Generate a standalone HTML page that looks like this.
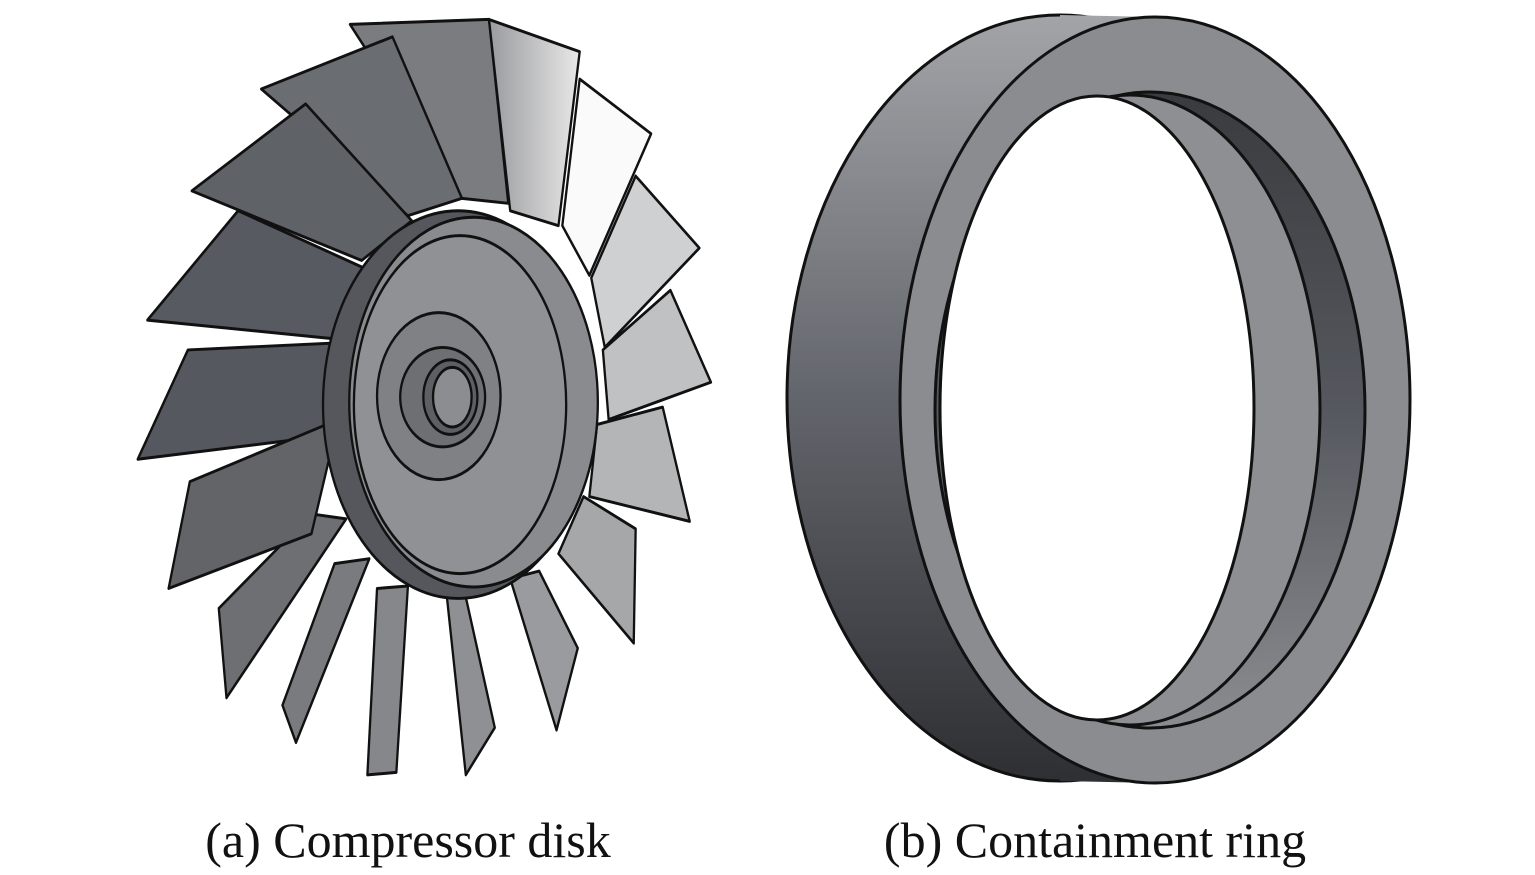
<!DOCTYPE html>
<html><head><meta charset="utf-8"><style>
html,body{margin:0;padding:0;background:#fff;}
svg{display:block;}
text{font-family:"Liberation Serif",serif;}
</style></head><body>
<svg width="1535" height="875" viewBox="0 0 1535 875" xmlns="http://www.w3.org/2000/svg">
<defs>
<linearGradient id="band" x1="0" y1="0" x2="0" y2="1">
<stop offset="0" stop-color="#a2a4a8"/><stop offset="0.5" stop-color="#62656b"/><stop offset="1" stop-color="#2e2f33"/>
</linearGradient>
<linearGradient id="inner" x1="0" y1="0" x2="0" y2="1">
<stop offset="0" stop-color="#3a3b3f"/><stop offset="0.5" stop-color="#55585e"/><stop offset="1" stop-color="#8a8c90"/>
</linearGradient>
<linearGradient id="lite" x1="0" y1="0" x2="1" y2="0">
<stop offset="0" stop-color="#9a9b9e"/><stop offset="1" stop-color="#e8e8e8"/>
</linearGradient>
</defs>

<!-- Compressor disk -->
<g transform="translate(130,7) scale(0.386,0.497)" stroke="#111" stroke-width="6" stroke-linejoin="round">
<polygon points="570,35 930,25 980,395 860,385" fill="#7a7c80"/>
<polygon points="930,25 1165,90 1110,440 985,410" fill="url(#lite)"/>
<polygon points="1165,145 1350,255 1190,540 1120,440" fill="#fafafa"/>
<polygon points="1310,340 1475,485 1230,685 1195,545" fill="#cfd0d1"/>
<polygon points="1400,570 1505,755 1240,830 1225,690" fill="#c0c1c3"/>
<polygon points="1380,805 1450,1035 1190,985 1210,840" fill="#b4b5b7"/>
<polygon points="1175,985 1310,1050 1305,1280 1110,1100" fill="#a6a7a9"/>
<polygon points="985,1150 1060,1135 1160,1290 1105,1455" fill="#9a9b9e"/>
<polygon points="820,1180 865,1170 945,1450 870,1545" fill="#8f9093"/>
<polygon points="640,1170 720,1165 690,1540 615,1545" fill="#86878a"/>
<polygon points="530,1120 620,1110 430,1480 395,1405" fill="#7a7b7e"/>
<polygon points="470,1020 560,1030 250,1390 230,1210" fill="#6e6f72"/>
<polygon points="340,165 680,60 860,385 720,420" fill="#6a6e73"/>
<polygon points="160,370 455,195 730,430 600,510" fill="#5f6368"/>
<polygon points="45,630 280,410 620,530 560,670" fill="#575b61"/>
<polygon points="150,690 560,675 540,860 20,910" fill="#55585e"/>
<polygon points="155,955 540,830 470,1060 100,1170" fill="#626468"/>
<ellipse cx="850" cy="800" rx="350" ry="390" fill="#55575c"/>
<ellipse cx="890" cy="795" rx="322" ry="372" fill="#8a8b8f"/>
<ellipse cx="855" cy="800" rx="275" ry="340" fill="#909195"/>
<ellipse cx="800" cy="783" rx="160" ry="168" fill="#808185"/>
<ellipse cx="810" cy="785" rx="110" ry="100" fill="#6e6f73"/>
<ellipse cx="830" cy="785" rx="70" ry="75" fill="#5e5f63"/>
<ellipse cx="835" cy="785" rx="50" ry="60" fill="#8c8d90"/>
</g>

<!-- Containment ring -->
<g stroke="#111" stroke-width="3">
<ellipse cx="1060" cy="398" rx="273" ry="383" fill="url(#band)"/>
<polygon points="1060,15 1155,17 1155,783 1060,781" fill="url(#band)" stroke="none"/>
<ellipse cx="1155" cy="400" rx="255" ry="383" fill="#8a8c90"/>
<ellipse cx="1150" cy="410" rx="215" ry="318" fill="url(#inner)"/>
<ellipse cx="1130" cy="410" rx="190" ry="315" fill="#8d8f93"/>
<ellipse cx="1097" cy="408" rx="157" ry="312" fill="#fff"/>
</g>

<text x="408" y="857" font-size="50" text-anchor="middle" fill="#111">(a) Compressor disk</text>
<text x="1095" y="857" font-size="50" text-anchor="middle" fill="#111">(b) Containment ring</text>
</svg>
</body></html>
